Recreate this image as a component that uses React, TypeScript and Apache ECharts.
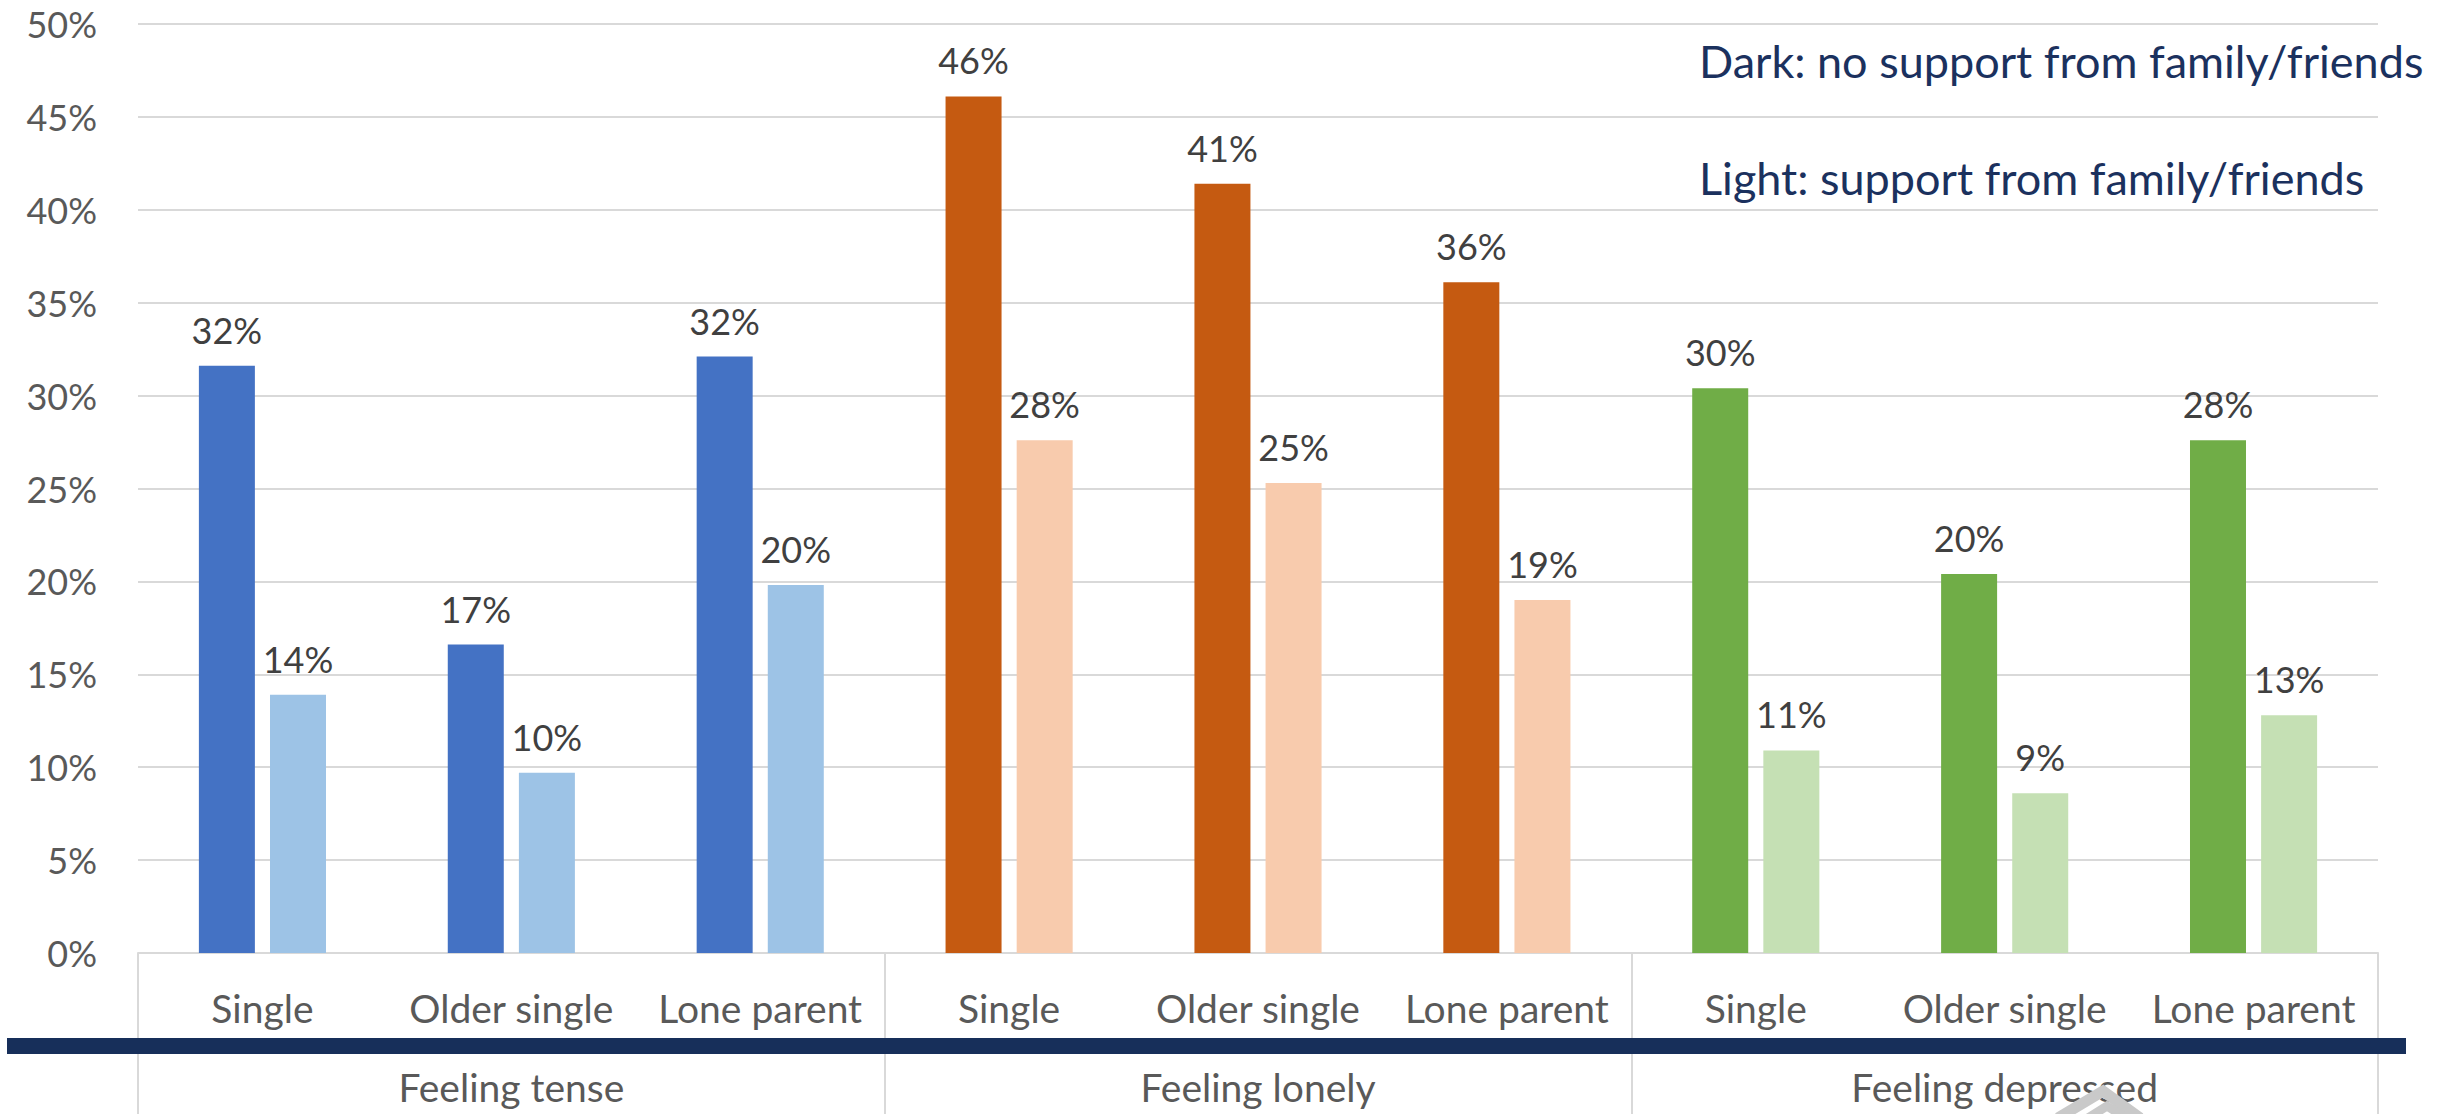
import React, { useEffect, useRef } from "react";
import * as echarts from "echarts";

// Outcome groups and the household types shown inside each group
const outcomeGroups = ["Feeling tense", "Feeling lonely", "Feeling depressed"];
const householdTypes = ["Single", "Older single", "Lone parent"];

// One bar pair per household type within each outcome group
const categories = outcomeGroups.flatMap(() => householdTypes);

// Share reporting each feeling (%), no support from family/friends
const noSupport = [31.6, 16.6, 32.1, 46.1, 41.4, 36.1, 30.4, 20.4, 27.6];
// Share reporting each feeling (%), with support from family/friends
const withSupport = [13.9, 9.7, 19.8, 27.6, 25.3, 19.0, 10.9, 8.6, 12.8];

// Dark / light shades per outcome group
const darkColors = ["#4472C4", "#C55A11", "#70AD47"];
const lightColors = ["#9DC3E6", "#F8CBAD", "#C5E0B4"];

const FONT = "Lato, 'Open Sans', sans-serif";

export default function App() {
  const ref = useRef<HTMLDivElement>(null);

  useEffect(() => {
    if (!ref.current) return;
    const chart = echarts.init(ref.current, undefined, { renderer: "svg" });

    const groupOf = (i: number) => Math.floor(i / householdTypes.length);
    const barLabel = {
      show: true,
      position: "top",
      distance: 18,
      color: "#404040",
      fontSize: 36,
      fontFamily: FONT,
      formatter: (p: any) => `${Math.round(p.value)}%`,
    };

    chart.setOption({
      animation: false,
      backgroundColor: "#FFFFFF",
      textStyle: { fontFamily: FONT },
      grid: { left: 138, right: 65, top: 24, bottom: 161, containLabel: false },
      xAxis: [
        {
          type: "category",
          data: categories,
          position: "bottom",
          axisLine: { show: true, lineStyle: { color: "#D9D9D9", width: 2 } },
          axisTick: { show: false },
          axisLabel: {
            interval: 0,
            margin: 35,
            color: "#595959",
            fontSize: 39,
            fontFamily: FONT,
          },
          splitLine: { show: false },
        },
        {
          type: "category",
          data: outcomeGroups,
          position: "bottom",
          offset: 0,
          axisLine: { show: false },
          axisTick: {
            show: true,
            length: 161,
            lineStyle: { color: "#D9D9D9", width: 2 },
          },
          axisLabel: {
            interval: 0,
            margin: 114,
            color: "#595959",
            fontSize: 39,
            fontFamily: FONT,
          },
          splitLine: { show: false },
        },
      ],
      yAxis: {
        type: "value",
        min: 0,
        max: 50,
        interval: 5,
        axisLine: { show: false },
        axisTick: { show: false },
        axisLabel: {
          formatter: "{value}%",
          margin: 41,
          color: "#595959",
          fontSize: 36,
          fontFamily: FONT,
        },
        splitLine: { lineStyle: { color: "#D9D9D9", width: 2 } },
      },
      series: [
        {
          name: "No support from family/friends",
          type: "bar",
          xAxisIndex: 0,
          data: noSupport,
          barWidth: 56,
          barGap: "27%",
          itemStyle: { color: (p: any) => darkColors[groupOf(p.dataIndex)] },
          label: barLabel,
        },
        {
          name: "Support from family/friends",
          type: "bar",
          xAxisIndex: 0,
          data: withSupport,
          barWidth: 56,
          barGap: "27%",
          itemStyle: { color: (p: any) => lightColors[groupOf(p.dataIndex)] },
          label: barLabel,
        },
      ],
      graphic: [
        {
          type: "text",
          left: 1699,
          top: 38,
          z: 100,
          style: {
            text: "Dark: no support from family/friends",
            fill: "#1B315E",
            fontSize: 45,
            fontFamily: FONT,
          },
        },
        {
          type: "text",
          left: 1699,
          top: 155,
          z: 100,
          style: {
            text: "Light: support from family/friends",
            fill: "#1B315E",
            fontSize: 45,
            fontFamily: FONT,
          },
        },
        {
          type: "rect",
          z: 100,
          shape: { x: 7, y: 1038, width: 2399, height: 16 },
          style: { fill: "#172F5A" },
        },
        {
          type: "polyline",
          z: 90,
          shape: { points: [[2058, 1118], [2103, 1091], [2140, 1118]] },
          style: { stroke: "#C9C9C9", lineWidth: 11, fill: null },
        },
        {
          type: "polyline",
          z: 90,
          shape: { points: [[2088, 1118], [2107, 1106], [2126, 1118]] },
          style: { stroke: "#C9C9C9", lineWidth: 9, fill: null },
        },
      ],
    });

    return () => chart.dispose();
  }, []);

  return (
    <div
      ref={ref}
      style={{ position: "fixed", left: 0, top: 0, width: 2443, height: 1114 }}
    />
  );
}
